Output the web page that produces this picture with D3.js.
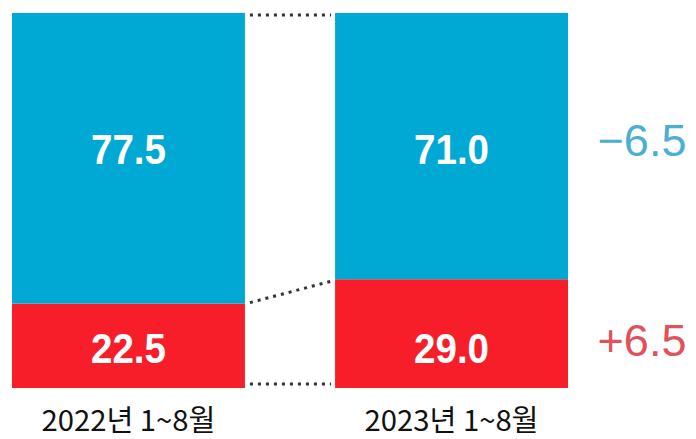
<!DOCTYPE html>
<html>
<head>
<meta charset="utf-8">
<script src="https://cdn.jsdelivr.net/npm/d3@7"></script>
<style>
  body { margin: 0; background: #fff; }
  svg { display: block; }
</style>
</head>
<body>
<svg></svg>
<script>
// data
const periods = ['2022년 1~8월', '2023년 1~8월'];
const blueValues = [77.5, 71.0];
const redValues = [22.5, 29.0];
const changeLabels = ['−6.5', '+6.5'];

let width = 696;
let height = 439;

let blue = '#00a9d4';
let red = '#f71e29';

let svg = d3.select('svg')
    .attr('width', width)
    .attr('height', height);

let xScale = d3.scaleBand()
    .domain(periods)
    .range([12, 568])
    .paddingInner(0.279)
    .paddingOuter(0);

let yScale = d3.scaleLinear()
    .domain([0, 100])
    .range([388, 13]);

let rows = periods.map((p, i) => {
    return { period: p, red: redValues[i], blue: blueValues[i] };
});

let stacked = d3.stack().keys(['red', 'blue'])(rows);

// labels sit on one row per layer
let labelRowY = { blue: 149, red: 348 };

// bars
svg.selectAll('g.layer')
    .data(stacked)
    .enter()
    .append('g')
        .attr('class', 'layer')
        .attr('fill', (d) => d.key === 'red' ? red : blue)
    .selectAll('rect')
    .data((d) => d)
    .enter()
    .append('rect')
        .attr('x', (d) => xScale(d.data.period))
        .attr('width', xScale.bandwidth())
        .attr('y', (d) => yScale(d[1]))
        .attr('height', (d) => yScale(d[0]) - yScale(d[1]));

// value labels inside bars
svg.selectAll('g.layer').each(function (layer) {
    d3.select(this).selectAll('text')
        .data(layer)
        .enter()
        .append('text')
            .attr('x', (d) => xScale(d.data.period) + xScale.bandwidth() / 2)
            .attr('y', labelRowY[layer.key])
            .attr('dy', '0.36em')
            .attr('text-anchor', 'middle')
            .attr('fill', '#fff')
            .attr('font-family', 'Liberation Sans, Arial, sans-serif')
            .attr('font-weight', 'bold')
            .attr('font-size', 43)
            .attr('textLength', 75)
            .attr('lengthAdjust', 'spacingAndGlyphs')
            .text((d) => d.data[layer.key].toFixed(1));
});

// dotted connectors between the bars
let x0 = xScale(periods[0]) + xScale.bandwidth() + 5;
let x1 = xScale(periods[1]) - 4;
let connectors = [
    [yScale(100) + 2, yScale(100) + 2],
    [yScale(redValues[0]) - 1, yScale(redValues[1]) + 2],
    [yScale(0) - 4, yScale(0) - 4]
];

svg.selectAll('line.connector')
    .data(connectors)
    .enter()
    .append('line')
        .attr('class', 'connector')
        .attr('x1', x0)
        .attr('x2', x1)
        .attr('y1', (d) => d[0])
        .attr('y2', (d) => d[1])
        .attr('stroke', '#333')
        .attr('stroke-width', 3)
        .attr('stroke-dasharray', '3,5');

// change labels to the right
let changeY = [
    (yScale(100) + yScale(redValues[1])) / 2 - 6,
    (yScale(redValues[1]) + yScale(0)) / 2 + 6
];

svg.selectAll('text.change')
    .data(changeLabels)
    .enter()
    .append('text')
        .attr('class', 'change')
        .attr('x', 642)
        .attr('y', (d, i) => changeY[i])
        .attr('dy', '0.36em')
        .attr('text-anchor', 'middle')
        .attr('fill', (d, i) => i === 0 ? '#4aafd1' : '#e2505a')
        .attr('font-family', 'Liberation Sans, Arial, sans-serif')
        .attr('font-size', 45)
        .text((d) => d);

// category axis
let xAxis = d3.axisBottom(xScale).tickSize(0).tickPadding(0);

svg.append('g')
    .attr('id', 'x-axis')
    .attr('transform', 'translate(0,431)')
    .call(xAxis)
    .call((g) => g.select('.domain').remove())
    .selectAll('text')
        .attr('dy', 0)
        .attr('fill', '#111')
        .attr('font-family', 'Noto Sans CJK KR, sans-serif')
        .attr('font-weight', 400)
        .attr('font-size', 29)
        .attr('textLength', 174)
        .attr('lengthAdjust', 'spacingAndGlyphs');
</script>
</body>
</html>
